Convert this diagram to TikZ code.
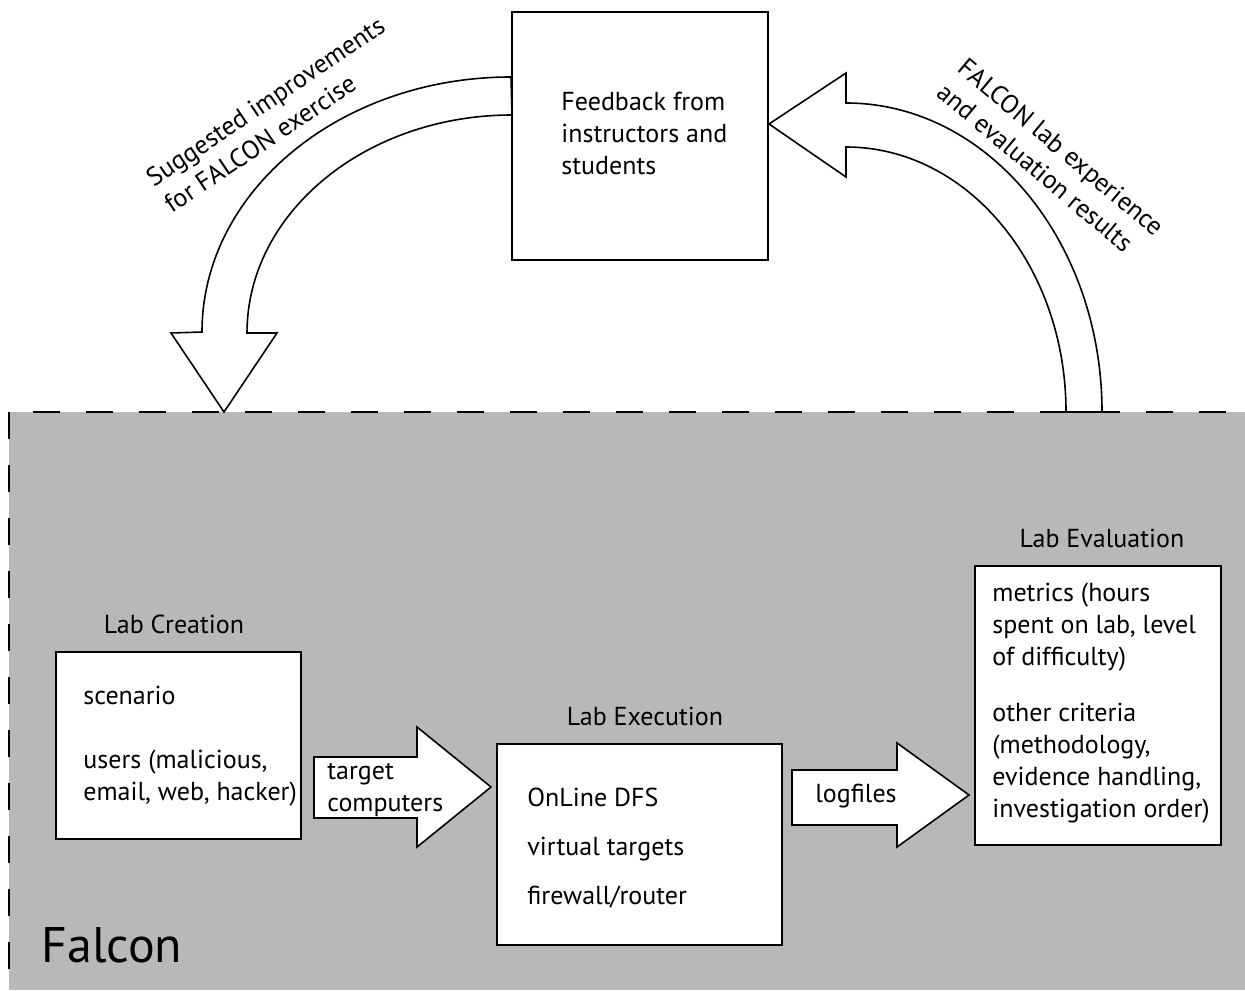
\documentclass[tikz,border=0pt]{standalone}
\usepackage{fontspec}
\setmainfont{PT Sans}
\usetikzlibrary{arrows.meta}
\definecolor{labgrey}{RGB}{184,184,184}
\begin{document}
\begin{tikzpicture}[x=0.5pt,y=-0.5pt,
  every node/.style={font=\fontsize{13}{16}\selectfont,inner sep=0pt},
  box/.style={draw,line width=1pt,fill=white,rectangle},
  txt/.style={anchor=west,align=left},
  blk/.style={draw,line width=0.8pt,fill=white,line join=miter}]
\useasboundingbox (0,0) rectangle (1245,990);
% lab area
\fill[labgrey] (9,412) rectangle (1245,990);
\draw[line width=1pt,dash pattern=on 13.5pt off 13pt] (9,412) -- (9,990);
\draw[line width=1pt,dash pattern=on 13.5pt off 13pt,dash phase=14.5pt] (9,412) -- (1245,412);
\node[anchor=base west,font=\fontsize{25}{30}\selectfont] (flc) at (41,962) {Falcon};
% feedback
\node[box,minimum width=128pt,minimum height=124pt] (fb) at (640,136) {};
\node[txt] (fbtxt) at (561,133) {Feedback from\\instructors and\\students};
\draw[blk] (fb.north west) ++(0,66) arc (270:180:309 and 255) -- (171,333) -- (224,412) -- (277,333) -- (247,333) arc (180:270:265 and 218) -- cycle;
\draw[blk] (fb.north east) ++(0,113) -- (846,73) -- (846,103) arc (270:360:256 and 309) -- (1066,412) arc (0:-90:220 and 265) -- (846,177) -- cycle;
\node[rotate=34,anchor=north west,align=left] (sgl) at (143,172) {Suggested improvements\\for FALCON exercise};
\node[rotate=-40,anchor=north west,align=left] (rsl) at (968,56) {FALCON lab experience\\and evaluation results};
% lab stages
\node[box,minimum width=122.5pt,minimum height=93.5pt] (crt) at (178.5,745.5) {};
\node (crttl) at (174,624) {Lab Creation};
\node[txt] (crttxt) at (83,746) {scenario\\[16pt]users (malicious,\\email, web, hacker)};
\node[box,minimum width=142.5pt,minimum height=100.5pt] (exe) at (639.5,844.5) {};
\node (exettl) at (645,716) {Lab Execution};
\node[txt] (exetxt) at (527,848) {OnLine DFS\\[8.5pt]virtual targets\\[8.5pt]firewall/router};
\node[box,minimum width=123pt,minimum height=139.5pt] (evl) at (1098,705.5) {};
\node (evlttl) at (1102,538) {Lab Evaluation};
\node[txt] (evltxt) at (992,703) {metrics (hours\\spent on lab, level\\of difficulty)\\[12pt]other criteria\\(methodology,\\evidence handling,\\investigation order)};
% flow arrows
\draw[blk] (314,757) -- (417,757) -- (417,727) -- (491,787) -- (417,847) -- (417,818) -- (314,818) -- cycle;
\node[txt] (tctxt) at (327,790) {target\\computers};
\draw[blk] (792,770) -- (897,770) -- (897,743) -- (969,795) -- (897,847) -- (897,825) -- (792,825) -- cycle;
\node (lftxt) at (856,796) {logfiles};
\end{tikzpicture}
\end{document}
